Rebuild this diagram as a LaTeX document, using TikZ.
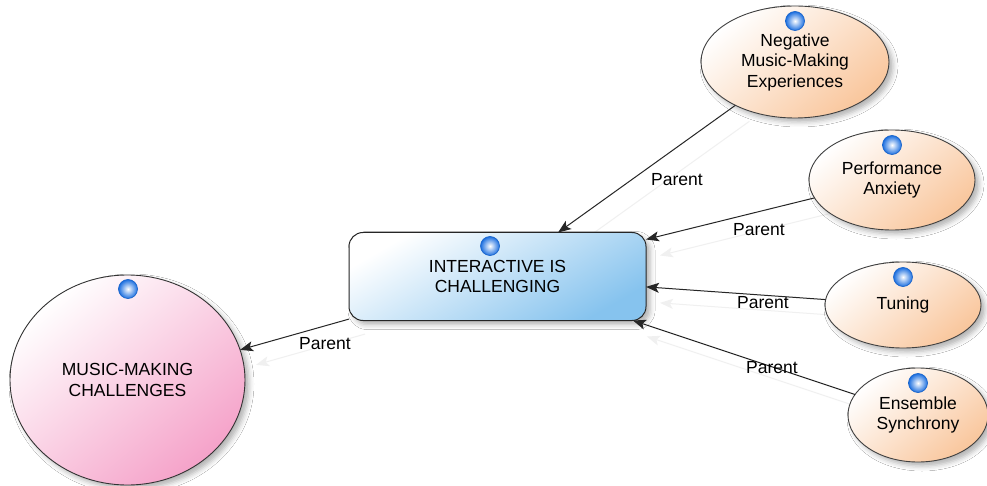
\documentclass[tikz,border=0pt]{standalone}
\usepackage{fontspec}
\setmainfont{Liberation Sans}
\usetikzlibrary{shapes.geometric,shadows.blur,arrows.meta,backgrounds}
\definecolor{peach}{HTML}{F9C69C}
\definecolor{rose}{HTML}{F5A2C9}
\definecolor{sky}{HTML}{86C3EE}
\definecolor{rim}{HTML}{1C6FE0}
\begin{document}
\begin{tikzpicture}[x=1pt,y=-1pt,
  every node/.style={font=\fontsize{17.5}{20.5}\selectfont, align=center},
  soft/.style={blur shadow={shadow xshift=4pt,shadow yshift=-4pt,shadow blur radius=5pt,shadow opacity=30}},
  topic/.style={ellipse, draw=black!75, line width=0.9pt, inner sep=0pt, outer sep=0pt,
    shading=axis, top color=white, bottom color=peach, shading angle=40, soft},
  root/.style={ellipse, draw=black!80, line width=0.9pt, inner sep=0pt, outer sep=0pt,
    shading=axis, top color=white, bottom color=rose, shading angle=40, soft},
  hub/.style={rectangle, rounded corners=14pt, draw=black!85, line width=1pt, inner sep=0pt, outer sep=0pt,
    shading=axis, top color=white, bottom color=sky, shading angle=30, soft},
  icon/.style={circle, minimum size=19pt, inner sep=0pt, draw=rim!90!black, line width=0.7pt,
    inner color=white, outer color=rim},
  link/.style={draw=black!85, line width=1pt, -{Stealth[length=13pt,width=10pt,inset=3pt]}},
  ghost/.style={draw=black!6, line width=1pt, -{Stealth[length=13pt,width=10pt,inset=3pt]}},
  tag/.style={font=\fontsize{17.5}{20.5}\selectfont}
]
\useasboundingbox (0,0) rectangle (987,486);

% nodes
\node[root, minimum width=235pt, minimum height=210pt] (mmc) at (127.5,380) {MUSIC-MAKING\\CHALLENGES};
\node[hub, minimum width=297pt, minimum height=88pt] (box) at (497.5,276.5) {INTERACTIVE IS\\CHALLENGING};
\node[topic, minimum width=188pt, minimum height=112pt] (neg) at (795,62) {Negative\\Music-Making\\Experiences};
\node[topic, minimum width=166pt, minimum height=100pt] (perf) at (892,180) {Performance\\Anxiety};
\node[topic, minimum width=156pt, minimum height=86pt] (tun) at (903,305) {Tuning};
\node[topic, minimum width=140pt, minimum height=94pt] (ens) at (918,415) {Ensemble\\Synchrony};

% white page and faint connector shadows behind the nodes
\begin{pgfonlayer}{background}
\fill[white] (0,0) rectangle (987,486);
\draw[ghost] ([shift={(14,16)}]neg.216) -- ([shift={(14,16)}]box.36);
\draw[ghost] ([shift={(14,16)}]perf.193) -- ([shift={(14,16)}]box.14);
\draw[ghost] ([shift={(14,16)}]tun.176) -- ([shift={(14,16)}]box.-4);
\draw[ghost] ([shift={(14,16)}]ens.162) -- ([shift={(14,16)}]box.-18);
\draw[ghost] ([shift={(16,15)}]box.196) -- ([shift={(16,15)}]mmc.15);
\end{pgfonlayer}

% connectors
\draw[link] (neg.216) -- (box.36);
\draw[link] (perf.193) -- (box.14);
\draw[link] (tun.176) -- (box.-4);
\draw[link] (ens.162) -- (box.-18);
\draw[link] (box.196) -- (mmc.15);

% labels
\node[tag] (l1) at (677,180) {Parent};
\node[tag] (l2) at (759,230) {Parent};
\node[tag] (l3) at (763,303) {Parent};
\node[tag] (l4) at (772,368) {Parent};
\node[tag] (l5) at (325,344) {Parent};

% status icons
\node[icon] (i1) at (128,289) {};
\node[icon] (i2) at (490,246) {};
\node[icon] (i3) at (795,21) {};
\node[icon] (i4) at (892,145) {};
\node[icon] (i5) at (903,277) {};
\node[icon] (i6) at (918,383) {};
\end{tikzpicture}
\end{document}
